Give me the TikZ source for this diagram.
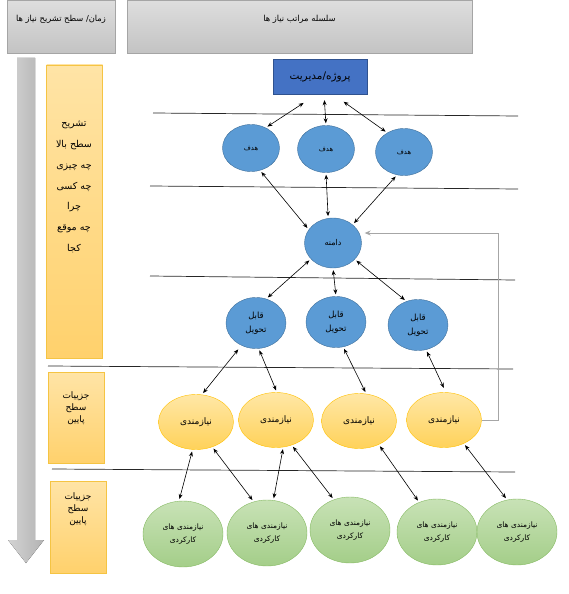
\documentclass[tikz,border=0pt]{standalone}
\usepackage{fontspec}
\newfontfamily\arabicfont[Script=Arabic]{DejaVu Sans}
\TeXXeTstate=1
\usetikzlibrary{shapes.geometric,arrows.meta}
\newcommand{\fa}[1]{{\arabicfont\beginR #1\endR}}
\definecolor{hdrtop}{HTML}{DEDEDE}
\definecolor{hdrbot}{HTML}{C3C3C3}
\definecolor{hdrline}{HTML}{A5A5A5}
\definecolor{lvltop}{HTML}{FFE4A6}
\definecolor{lvlbot}{HTML}{FFD16C}
\definecolor{lvlline}{HTML}{F5C443}
\definecolor{mgmtfill}{HTML}{4472C4}
\definecolor{mgmtline}{HTML}{2F528F}
\definecolor{bluefill}{HTML}{5B9BD5}
\definecolor{blueline}{HTML}{41719C}
\definecolor{reqtop}{HTML}{FFE7A6}
\definecolor{reqbot}{HTML}{FFD25A}
\definecolor{reqline}{HTML}{FFC000}
\definecolor{fnctop}{HTML}{C8E2B6}
\definecolor{fncbot}{HTML}{A4CE89}
\definecolor{fncline}{HTML}{86BA63}
\begin{document}
\begin{tikzpicture}[x=1pt,y=-1pt,
    header/.style={rectangle,draw=hdrline,top color=hdrtop,bottom color=hdrbot,minimum height=53pt,
      text height=6pt,text depth=16pt,font=\fontsize{8.3}{10}\selectfont},
    levelbox/.style={rectangle,draw=lvlline,top color=lvltop,bottom color=lvlbot,minimum width=56pt},
    leveltext/.style={align=center,font=\fontsize{9}{12}\selectfont},
    mgmt/.style={rectangle,draw=mgmtline,fill=mgmtfill,minimum width=94pt,minimum height=35pt,
      font=\fontsize{10.5}{12}\selectfont},
    goal/.style={ellipse,draw=blueline,fill=bluefill,minimum width=57pt,minimum height=47pt,
      inner sep=0pt,font=\fontsize{6.8}{8}\selectfont},
    deliv/.style={ellipse,draw=blueline,fill=bluefill,minimum width=60pt,minimum height=51pt,
      inner sep=0pt,align=center,font=\fontsize{8.5}{14}\selectfont},
    req/.style={ellipse,draw=reqline,top color=reqtop,bottom color=reqbot,minimum width=75pt,
      minimum height=55pt,inner sep=0pt,font=\fontsize{9}{10}\selectfont},
    fnc/.style={ellipse,draw=fncline,top color=fnctop,bottom color=fncbot,minimum width=80pt,
      minimum height=66pt,inner sep=0pt,align=center,font=\fontsize{7.5}{13}\selectfont},
    biarrow/.style={{Stealth[length=5pt,width=4pt]}-{Stealth[length=5pt,width=4pt]},
      line width=0.6pt,shorten <=2pt,shorten >=2pt},
    divider/.style={line width=0.7pt,black!85},
    feedback/.style={-{Stealth[length=6pt,width=5pt]},draw=black!35,line width=0.8pt}]
    \useasboundingbox (0,0) rectangle (569,594);

    % headers
    \node[header,minimum width=108pt] (timehdr) at (61,26.5) {\fa{زمان/ سطح تشریح نیاز ها}};
    \node[header,minimum width=345pt] (hierhdr) at (299.5,26.5) {\fa{سلسله مراتب نیاز ها}};

    % time arrow
    \fill[left color=black!17,right color=black!30] (17,58) -- (35,58) -- (35,540) -- (44,540)
        -- (26,563) -- (8,540) -- (17,540) -- cycle;

    % level boxes
    \node[levelbox,minimum height=293pt] (lvltop) at (74.5,211.5) {};
    \node[levelbox,minimum height=91pt] (lvlmid) at (76.5,417.5) {};
    \node[levelbox,minimum height=92pt] (lvlbot) at (78,527) {};
    \node[leveltext,font=\fontsize{9.5}{20.8}\selectfont] (lvltoptxt) at (74,187)
        {\fa{تشریح}\\\fa{سطح بالا}\\\fa{چه چیزی}\\\fa{چه کسی}\\\fa{چرا}\\\fa{چه موقع}\\\fa{کجا}};
    \node[leveltext] (lvlmidtxt) at (76,408) {\fa{جزییات}\\\fa{سطح}\\\fa{پایین}};
    \node[leveltext] (lvlbottxt) at (78,509) {\fa{جزییات}\\\fa{سطح}\\\fa{پایین}};

    % dividers
    \draw[divider] (153,113) -- (518,116);
    \draw[divider] (150,186) -- (518,189);
    \draw[divider] (150,276) -- (515,280);
    \draw[divider] (48,366) -- (513,369);
    \draw[divider] (52,469) -- (515,472);

    % hierarchy
    \node[mgmt] (pm) at (320,76.5) {\fa{پروژه/مدیریت}};
    \node[goal] (g1) at (251,148) {\fa{هدف}};
    \node[goal] (g2) at (326,149) {\fa{هدف}};
    \node[goal] (g3) at (404,152) {\fa{هدف}};
    \node[goal,minimum width=57pt,minimum height=50pt,font=\fontsize{8}{9}\selectfont] (d) at (333,243) {\fa{دامنه}};
    \node[deliv] (q1) at (256,323) {\fa{قابل}\\\fa{تحویل}};
    \node[deliv] (q2) at (336,322) {\fa{قابل}\\\fa{تحویل}};
    \node[deliv] (q3) at (418,325) {\fa{قابل}\\\fa{تحویل}};
    \node[req] (r1) at (196,422) {\fa{نیازمندی}};
    \node[req] (r2) at (276,420) {\fa{نیازمندی}};
    \node[req] (r3) at (359,421) {\fa{نیازمندی}};
    \node[req] (r4) at (444,420) {\fa{نیازمندی}};
    \node[fnc] (f1) at (183,534) {\fa{نیازمندی های}\\\fa{کارکردی}};
    \node[fnc] (f2) at (267,533) {\fa{نیازمندی های}\\\fa{کارکردی}};
    \node[fnc] (f3) at (350,530) {\fa{نیازمندی های}\\\fa{کارکردی}};
    \node[fnc] (f4) at (437,532) {\fa{نیازمندی های}\\\fa{کارکردی}};
    \node[fnc] (f5) at (517,532) {\fa{نیازمندی های}\\\fa{کارکردی}};

    % links
    \draw[biarrow,shorten <=16pt] ([xshift=-3pt]pm.south) -- (g1.54);
    \draw[biarrow,shorten <=6pt] ([xshift=4pt]pm.south) -- (g2.north);
    \draw[biarrow,shorten <=13pt] ([xshift=13pt]pm.south) -- (g3.131);
    \draw[biarrow] (g1.-68) -- (d.151);
    \draw[biarrow] (g2.south) -- (d.101);
    \draw[biarrow] (g3.-107) -- (d.43);
    \draw[biarrow] (d.216) -- (q1.67);
    \draw[biarrow] (d.south) -- (q2.north);
    \draw[biarrow] (d.-37) -- (q3.116);
    \draw[biarrow,shorten <=5pt] (q1.-123) -- (r1.78);
    \draw[biarrow] (q1.-84) -- (r2.88);
    \draw[biarrow] (q2.-74) -- (r3.75);
    \draw[biarrow,shorten >=5pt] (q3.-72) -- (r4.86);
    \draw[biarrow] (r1.-97) -- (f1.97);
    \draw[biarrow] (r1.-57) -- (f2.113);
    \draw[biarrow] (r2.-75) -- (f2.79);
    \draw[biarrow] (r2.-58) -- (f3.118);
    \draw[biarrow] (r3.-50) -- (f4.121);
    \draw[biarrow] (r4.-50) -- (f5.107);
    \draw[feedback] (r4.east) -- ++(17,0) |- ([xshift=3pt,yshift=10pt]d.east);
\end{tikzpicture}
\end{document}
